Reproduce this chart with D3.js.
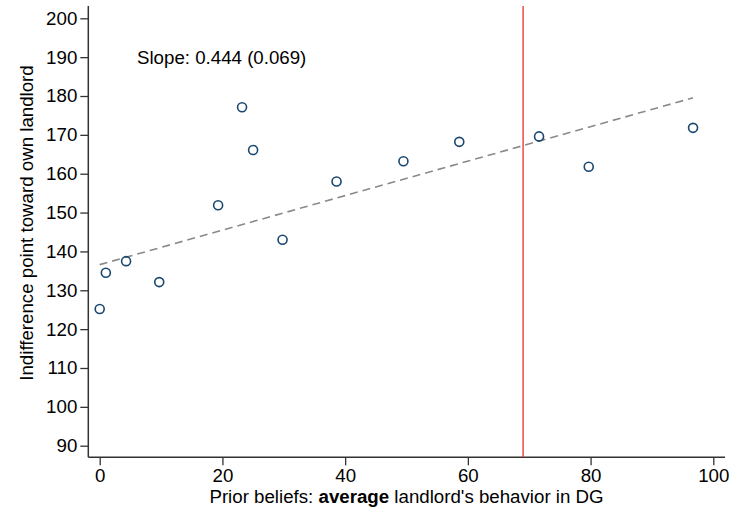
<!DOCTYPE html>
<html><head><meta charset="utf-8">
<script src="https://cdn.jsdelivr.net/npm/d3@7"></script>
<style>body{margin:0;background:#fff}svg{display:block}text{font-family:"Liberation Sans",Arial,sans-serif}</style>
</head><body><svg id="c" width="731" height="511"></svg>
<script>
const xVals = [0, 1.0, 4.3, 9.7, 19.3, 23.2, 25.0, 29.8, 38.6, 49.5, 58.6, 71.6, 79.7, 96.7];
const yVals = [125.2, 134.5, 137.5, 132.1, 151.9, 177.1, 166.1, 143.0, 158.0, 163.2, 168.2, 169.6, 161.8, 171.8];
const xTicks = [0, 20, 40, 60, 80, 100];
const yTicks = [90, 100, 110, 120, 130, 140, 150, 160, 170, 180, 190, 200];
const slope = 0.444, intercept = 136.6;
const vLine = 69;
const slopeLabel = "Slope: 0.444 (0.069)";

(function () {
const svg = d3.select("#c");
const x = d3.scaleLinear().domain([0, 100]).range([99.7, 713.3]);
const y = d3.scaleLinear().domain([90, 200]).range([445.7, 18.3]);
const pL = 88.3, pB = 457.3, pT = 6, pR = 725;
const axisCol = "#333";
const fs = 18.7;

const gx = svg.append("g").attr("transform", `translate(0,${pB})`)
  .call(d3.axisBottom(x).tickValues(xTicks).tickSize(8).tickPadding(3).tickFormat(d3.format("d")));
const gy = svg.append("g").attr("transform", `translate(${pL},0)`)
  .call(d3.axisLeft(y).tickValues(yTicks).tickSize(8).tickPadding(3).tickFormat(d3.format("d")));
[gx, gy].forEach(g => {
  g.select(".domain").remove();
  g.selectAll(".tick line").attr("stroke", axisCol).attr("stroke-width", 1.3);
  g.selectAll(".tick text").attr("font-size", fs).attr("fill", "#000");
});
svg.append("line").attr("x1", pL).attr("x2", pL).attr("y1", pT).attr("y2", pB)
  .attr("stroke", axisCol).attr("stroke-width", 1.5);
svg.append("line").attr("x1", pL).attr("x2", pR).attr("y1", pB).attr("y2", pB)
  .attr("stroke", axisCol).attr("stroke-width", 1.5);

svg.append("line").attr("x1", x(vLine)).attr("x2", x(vLine)).attr("y1", pT).attr("y2", pB)
  .attr("stroke", "#e8312a").attr("stroke-width", 1.3);

const xmin = d3.min(xVals), xmax = d3.max(xVals);
svg.append("line")
  .attr("x1", x(xmin)).attr("y1", y(intercept + slope * xmin))
  .attr("x2", x(xmax)).attr("y2", y(intercept + slope * xmax))
  .attr("stroke", "#8a8a8a").attr("stroke-width", 1.6).attr("stroke-dasharray", "8,5");

svg.append("g").selectAll("circle").data(xVals.map((v, i) => [v, yVals[i]])).join("circle")
  .attr("cx", d => x(d[0])).attr("cy", d => y(d[1])).attr("r", 4.5)
  .attr("fill", "none").attr("stroke", "#1a476f").attr("stroke-width", 1.6);

svg.append("text").attr("x", 137).attr("y", 64).attr("font-size", fs).text(slopeLabel);

const xt = svg.append("text").attr("x", 406.5).attr("y", 503)
  .attr("text-anchor", "middle").attr("font-size", fs);
xt.append("tspan").text("Prior beliefs: ");
xt.append("tspan").attr("font-weight", "bold").text("average");
xt.append("tspan").text(" landlord's behavior in DG");

svg.append("text").attr("transform", `translate(32.5,223) rotate(-90)`)
  .attr("text-anchor", "middle").attr("font-size", fs)
  .text("Indifference point toward own landlord");
})();
</script></body></html>
